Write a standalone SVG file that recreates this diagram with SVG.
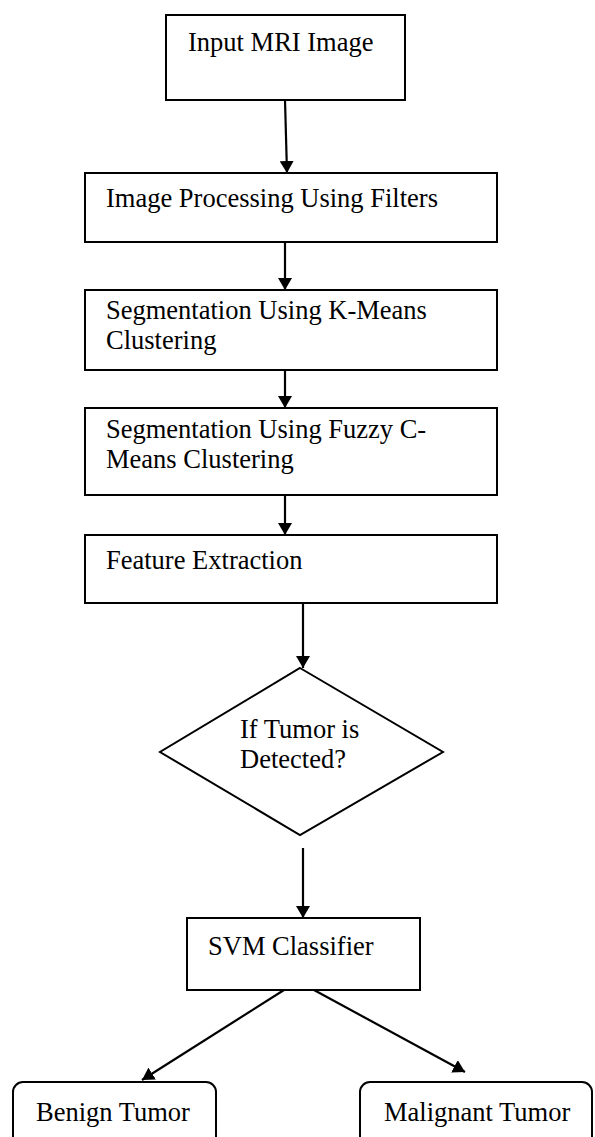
<svg xmlns="http://www.w3.org/2000/svg" width="595" height="1137" viewBox="0 0 595 1137">
<defs>
<marker id="ah" viewBox="0 0 12 14" refX="12" refY="7" markerWidth="12" markerHeight="14" markerUnits="userSpaceOnUse" orient="auto">
<path d="M0,0 L12,7 L0,14 Z" fill="#000"/>
</marker>
<style>
.box{fill:#fff;stroke:#000;stroke-width:2}
.t{font-family:"Liberation Serif","Times New Roman",serif;font-size:26.5px;fill:#000}
.c{stroke:#000;stroke-width:2.2;fill:none;marker-end:url(#ah)}
</style>
</defs>
<rect width="595" height="1137" fill="#fff"/>
<g id="connectors">
<line class="c" x1="285" y1="100" x2="287" y2="173"/>
<line class="c" x1="285" y1="242" x2="285" y2="290"/>
<line class="c" x1="285" y1="370" x2="285" y2="408"/>
<line class="c" x1="285" y1="495" x2="285" y2="535"/>
<line class="c" x1="303" y1="603" x2="303" y2="668"/>
<line class="c" x1="303" y1="848" x2="303" y2="918"/>
<line class="c" x1="284" y1="990" x2="142" y2="1080"/>
<line class="c" x1="314" y1="990" x2="465" y2="1072"/>
</g>
<g id="input">
<rect class="box" x="166" y="15" width="239" height="85"/>
<text class="t" x="188" y="51">Input MRI Image</text>
</g>
<g id="filters">
<rect class="box" x="85" y="173" width="412" height="69"/>
<text class="t" x="106" y="207">Image Processing Using Filters</text>
</g>
<g id="kmeans">
<rect class="box" x="85" y="290" width="412" height="80"/>
<text class="t" x="106" y="319">Segmentation Using K-Means</text>
<text class="t" x="106" y="349">Clustering</text>
</g>
<g id="fcm">
<rect class="box" x="85" y="408" width="412" height="87"/>
<text class="t" x="106" y="438">Segmentation Using Fuzzy C-</text>
<text class="t" x="106" y="468">Means Clustering</text>
</g>
<g id="feature">
<rect class="box" x="85" y="535" width="412" height="68"/>
<text class="t" x="106" y="569">Feature Extraction</text>
</g>
<g id="decision">
<polygon class="box" points="300,668 443,752 300,835 160,752"/>
<text class="t" x="240" y="738">If Tumor is</text>
<text class="t" x="240" y="768">Detected?</text>
</g>
<g id="svm">
<rect class="box" x="187" y="918" width="233" height="72"/>
<text class="t" x="208" y="955">SVM Classifier</text>
</g>
<g id="benign">
<rect class="box" x="13" y="1082" width="203" height="80" rx="10"/>
<text class="t" x="36" y="1121">Benign Tumor</text>
</g>
<g id="malignant">
<rect class="box" x="360" y="1082" width="232" height="80" rx="10"/>
<text class="t" x="384" y="1121">Malignant Tumor</text>
</g>
</svg>
